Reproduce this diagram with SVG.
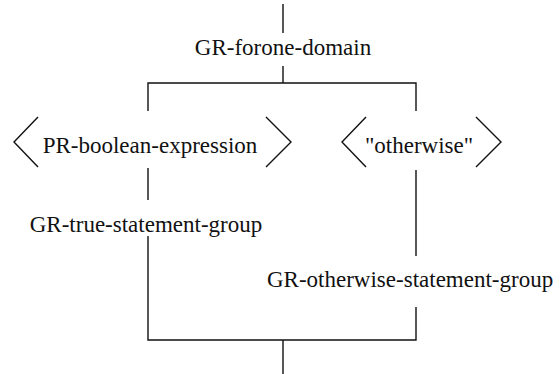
<svg xmlns="http://www.w3.org/2000/svg" width="560" height="374" viewBox="0 0 560 374">
  <style>
    .wire { fill: none; stroke: #111; stroke-width: 1.4; }
    .lbl { font-family: "Liberation Serif", "DejaVu Serif", serif; font-size: 23px; fill: #111; }
  </style>
  <rect width="560" height="374" fill="#fff"/>

  <!-- flow lines between the grammar boxes -->
  <g id="connectors">
    <line class="wire" x1="283" y1="4" x2="283" y2="33"/>
    <line class="wire" x1="283" y1="66" x2="283" y2="83"/>
    <polyline class="wire" points="148,111 148,83 416,83 416,111"/>
    <line class="wire" x1="148" y1="168" x2="148" y2="200"/>
    <line class="wire" x1="416" y1="170" x2="416" y2="256"/>
    <polyline class="wire" points="148,236 148,340 416,340 416,307"/>
    <line class="wire" x1="283" y1="340" x2="283" y2="374"/>
  </g>

  <g id="forone-domain">
    <text class="lbl" x="283" y="55" text-anchor="middle">GR-forone-domain</text>
  </g>

  <!-- angle-bracketed alternatives -->
  <g id="boolean-expression">
    <polyline class="wire" points="38,117 14,142 38,167"/>
    <polyline class="wire" points="266,117 291,142 266,167"/>
    <text class="lbl" x="150" y="153" text-anchor="middle">PR-boolean-expression</text>
  </g>

  <g id="otherwise">
    <polyline class="wire" points="366,117 342,142 366,167"/>
    <polyline class="wire" points="476,117 501,142 476,167"/>
    <text class="lbl" x="419" y="153" text-anchor="middle">"otherwise"</text>
  </g>

  <g id="true-statement-group">
    <text class="lbl" x="146" y="232" text-anchor="middle">GR-true-statement-group</text>
  </g>

  <g id="otherwise-statement-group">
    <text class="lbl" x="267" y="287">GR-otherwise-statement-group</text>
  </g>
</svg>
